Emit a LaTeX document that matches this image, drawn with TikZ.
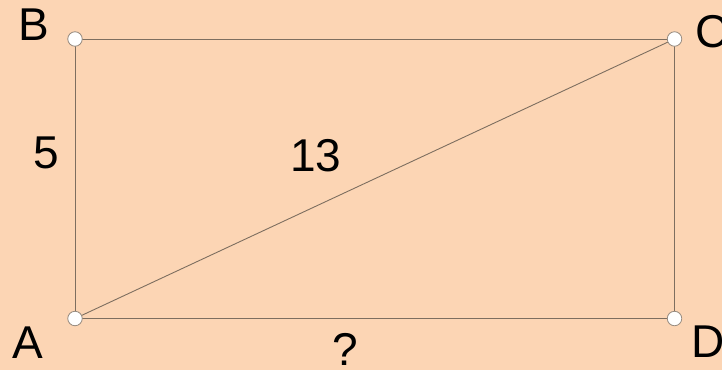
\documentclass[tikz,border=0pt]{standalone}
\usepackage{fontspec}
\setmainfont{Liberation Sans}
\usetikzlibrary{positioning}
\definecolor{peach}{RGB}{252,213,180}
\definecolor{edgecol}{RGB}{125,110,95}

\begin{document}
\begin{tikzpicture}[x=1pt,y=-1pt,
    pt/.style={circle,draw=edgecol!80,fill=white,line width=0.8pt,inner sep=0pt,minimum size=14.5pt},
    lbl/.style={inner sep=0pt,font=\fontsize{46}{50}\selectfont},
    edge/.style={draw=edgecol,line width=0.9pt}]
    % Background
    \fill[peach] (0,0) rectangle (722,370);
    \useasboundingbox (0,0) rectangle (722,370);

    % Corners
    \coordinate (A) at (75,318.5);
    \coordinate (B) at (75,39);
    \coordinate (C) at (674.5,39);
    \coordinate (D) at (674.5,318.5);

    % Sides and diagonal
    \draw[edge] (A) -- (B) -- (C) -- (D) -- cycle;
    \draw[edge] (A) -- (C);

    % Points
    \foreach \p in {A,B,C,D}
        \node[pt] (pt\p) at (\p) {};

    % Letters
    \node[lbl] (labB) at (34,24.5) {B};
    \node[lbl] (labC) at (712,31.5) {C};
    \node[lbl] (labA) at (27.5,342.5) {A};
    \node[lbl] (labD) at (708.5,341.5) {D};

    % Lengths
    \node[lbl] (len5) at (46.5,153) {5};
    \node[lbl] (len13) at (316,155.5) {13};
    \node[lbl] (lenq) at (345,349.5) {?};
\end{tikzpicture}
\end{document}
